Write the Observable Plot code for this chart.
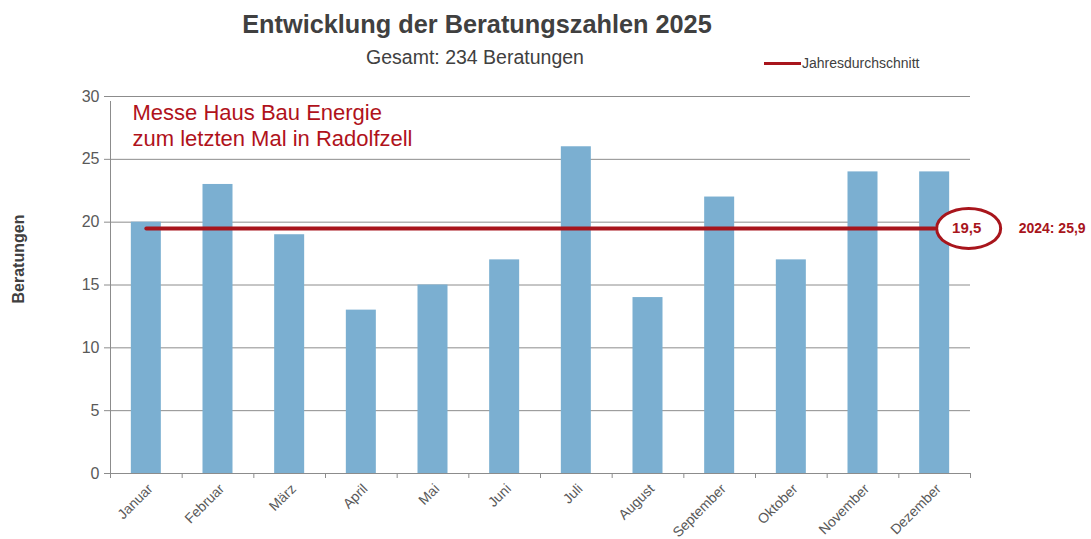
<!DOCTYPE html>
<html>
<head>
<meta charset="utf-8">
<script src="https://cdn.jsdelivr.net/npm/d3@7"></script>
<script src="https://cdn.jsdelivr.net/npm/@observablehq/plot@0.6"></script>
<style>
  body { margin: 0; background: #fff; }
  #wrap { position: relative; width: 1091px; height: 539px; font-family: "Liberation Sans Narrow", "Arial Narrow", "Liberation Sans", Arial, sans-serif; }
  #title { position: absolute; left: 0; width: 954px; top: 10px; text-align: center; font-weight: bold; font-size: 25.3px; color: #404040; }
  #subtitle { position: absolute; left: 0; width: 950px; top: 46px; text-align: center; font-size: 19.5px; color: #404040; }
  #legend { position: absolute; left: 764px; top: 55px; font-size: 14px; color: #404040; display: flex; align-items: center; font-family: "Liberation Sans", Arial, sans-serif; }
  #legend .sw { display: inline-block; width: 37px; height: 3px; background: #a8151c; margin-right: 1px; }
  #chart { position: absolute; left: 0; top: 0; }
</style>
</head>
<body>
<div id="wrap">
  <div id="chart"></div>
  <div id="title">Entwicklung der Beratungszahlen 2025</div>
  <div id="subtitle">Gesamt: 234 Beratungen</div>
  <div id="legend"><span class="sw"></span><span>Jahresdurchschnitt</span></div>
</div>
<script>
const months = ["Januar", "Februar", "März", "April", "Mai", "Juni", "Juli", "August", "September", "Oktober", "November", "Dezember"];
const counts = [20, 23, 19, 13, 15, 17, 26, 14, 22, 17, 24, 24];
const average = [19.5];
const previousYear = [{year: 2024, value: 25.9}];
const yTicks = [0, 5, 10, 15, 20, 25, 30];
const annotation = ["Messe Haus Bau Energie\nzum letzten Mal in Radolfzell"];
const yLabel = ["Beratungen"];

const data = months.map((m, i) => ({month: m, value: counts[i]}));
const de = v => v.toFixed(1).replace(".", ",");

const W = 1091, H = 539, mL = 110, mR = 121, mT = 96, mB = 66;
const band = (W - mL - mR) / months.length;
const barW = 30;
const inset = (band - barW) / 2;
const red = "#a8151c";
const axisGray = "#8c8c8c";
const narrow = '"Liberation Sans Narrow", "Arial Narrow", "Liberation Sans", Arial, sans-serif';
const regular = '"Liberation Sans", Arial, sans-serif';

const rx = 32, ry = 20, k = 0.5523;
const ellipse = {
  draw(ctx) {
    ctx.moveTo(rx, 0);
    ctx.bezierCurveTo(rx, ry * k, rx * k, ry, 0, ry);
    ctx.bezierCurveTo(-rx * k, ry, -rx, ry * k, -rx, 0);
    ctx.bezierCurveTo(-rx, -ry * k, -rx * k, -ry, 0, -ry);
    ctx.bezierCurveTo(rx * k, -ry, rx, -ry * k, rx, 0);
    ctx.closePath();
  }
};
const last = months[months.length - 1];

const chart = Plot.plot({
  width: W, height: H,
  marginLeft: mL, marginRight: mR, marginTop: mT, marginBottom: mB,
  style: {fontFamily: narrow, background: "transparent", color: "#595959"},
  x: {type: "band", domain: months, padding: 0, round: false, label: null},
  y: {domain: [0, 30], label: null},
  marks: [
    Plot.gridY(yTicks, {stroke: axisGray, strokeOpacity: 1}),
    Plot.barY(data, {x: "month", y: "value", fill: "#7bafd1", insetLeft: inset, insetRight: inset}),
    Plot.ruleY([0], {stroke: axisGray}),
    Plot.ruleX([months[0]], {x: d => d, y1: 0, y2: 30, dx: -band / 2, insetBottom: -5, stroke: axisGray}),
    Plot.ruleX(months, {x: d => d, y1: 0, y2: 0, dx: -band / 2, insetBottom: -5, stroke: axisGray}),
    Plot.ruleX([last], {x: d => d, y1: 0, y2: 0, dx: band / 2, insetBottom: -5, stroke: axisGray}),
    Plot.axisY(yTicks, {tickSize: 6, tickPadding: 5, fontSize: 16, stroke: axisGray, fill: "#595959"}),
    Plot.axisX({tickSize: 0, tickPadding: 4, tickRotate: -45, fontSize: 14, fill: "#595959", dx: 4, dy: 9}),
    Plot.lineY(months, {x: d => d, y: () => average[0], stroke: red, strokeWidth: 4}),
    Plot.dot(average, {x: () => last, y: d => d, dx: 34, symbol: ellipse, stroke: red, strokeWidth: 3, fill: "white"}),
    Plot.text(average, {x: () => last, y: d => d, dx: 32, text: d => de(d), fill: red, fontWeight: "bold", fontSize: 15}),
    Plot.text(previousYear, {x: () => last, y: () => average[0], dx: 84, text: d => `${d.year}: ${de(d.value)}`, textAnchor: "start", fill: red, fontWeight: "bold", fontSize: 14}),
    Plot.text(annotation, {frameAnchor: "top-left", dx: 22, dy: 6, text: d => d, fill: "#b0121b", fontSize: 22, lineHeight: 1.15, textAnchor: "start"}),
    Plot.text(yLabel, {frameAnchor: "left", dx: -92, dy: -26, rotate: -90, textAnchor: "middle", text: d => d, fontWeight: "bold", fontSize: 16, fontFamily: regular, fill: "#404040"})
  ]
});
document.getElementById("chart").appendChild(chart);
</script>
</body>
</html>
